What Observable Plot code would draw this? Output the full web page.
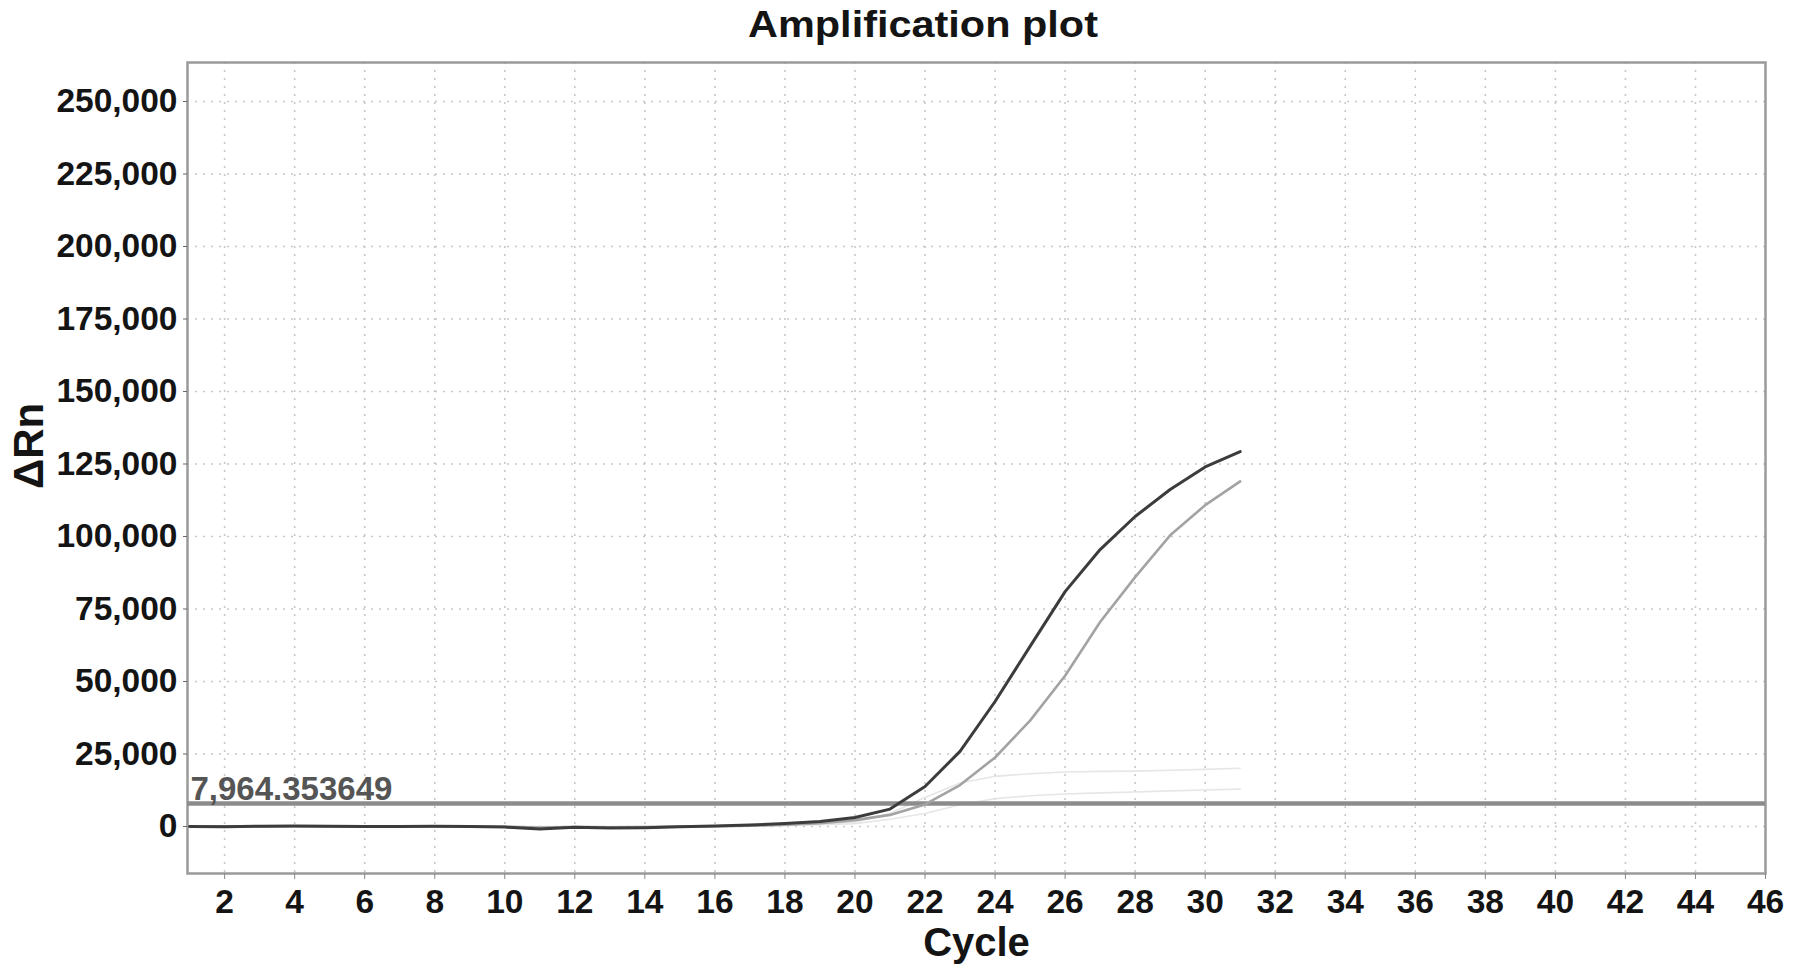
<!DOCTYPE html>
<html>
<head>
<meta charset="utf-8">
<script src="https://cdn.jsdelivr.net/npm/d3@7"></script>
<script src="https://cdn.jsdelivr.net/npm/@observablehq/plot@0.6"></script>
<style>
  html, body { margin: 0; padding: 0; background: #fff; }
  #wrap { position: relative; width: 1795px; height: 972px; font-family: "Liberation Sans", Arial, sans-serif; }
  #title { position: absolute; top: 6px; left: 923px; transform: translateX(-50%) scaleX(1.12); font-size: 37px; line-height: 37px; font-weight: bold; color: #141414; white-space: nowrap; }
  #chart { position: absolute; top: 50px; left: 0; }
</style>
</head>
<body>
<div id="wrap">
  <div id="title">Amplification plot</div>
  <div id="chart"></div>
</div>
<script>
// ---- data ----
const cycles = [1,2,3,4,5,6,7,8,9,10,11,12,13,14,15,16,17,18,19,20,21,22,23,24,25,26,27,28,29,30,31];
const sampleDark  = [0,-100,100,200,100,0,0,100,0,-200,-900,-300,-500,-400,-100,200,500,1000,1700,3100,6000,13800,25900,43100,62100,81000,95500,106900,116200,124000,129300];
const sampleLight = [0,100,0,100,0,0,100,0,0,-100,-400,-200,-300,-200,0,100,300,600,1100,2200,4000,7600,14300,23800,36500,52000,70500,86000,100400,110800,119000];
const faintUpper  = [0,0,100,0,0,100,0,0,100,0,-200,0,-100,0,0,100,200,400,800,1500,4500,10000,15000,17300,18200,18800,19000,19100,19400,19700,20100];
const faintLower  = [0,100,0,0,100,0,0,100,0,0,-100,0,0,-100,0,100,200,300,600,1000,2500,4500,7500,9600,10600,11200,11600,11900,12300,12600,12900];
const threshold = 7964.353649;
const xTicks = [2,4,6,8,10,12,14,16,18,20,22,24,26,28,30,32,34,36,38,40,42,44,46];
const yTicks = [0,25000,50000,75000,100000,125000,150000,175000,200000,225000,250000];
const xLabel = ["Cycle"];
const yLabel = ["ΔRn"];

const rows = cycles.map((c, i) => ({
  cycle: c,
  dark: sampleDark[i],
  light: sampleLight[i],
  up: faintUpper[i],
  low: faintLower[i]
}));

const chart = Plot.plot({
  width: 1795,
  height: 922,
  marginTop: 12,
  marginBottom: 99,
  marginLeft: 187,
  marginRight: 30,
  style: {
    fontFamily: "'Liberation Sans', Arial, sans-serif",
    fontSize: "33.5px",
    fontWeight: "bold",
    color: "#141414",
    background: "#fff"
  },
  x: { domain: [0.94, 46], ticks: xTicks },
  y: { domain: [-16207, 263448], ticks: yTicks },
  marks: [
    Plot.gridX(xTicks.filter(t => t < 46), { stroke: "#c8c8c8", strokeOpacity: 1, strokeWidth: 1.6, strokeDasharray: "2,6" }),
    Plot.gridY(yTicks, { stroke: "#c8c8c8", strokeOpacity: 1, strokeWidth: 1.6, strokeDasharray: "2,6" }),
    Plot.frame({ stroke: "#9a9a9a", strokeWidth: 2.5 }),
    Plot.axisX(xTicks, { tickSize: 6, tickPadding: 10, stroke: "#888", label: null, tickFormat: d => String(d) }),
    Plot.axisY(yTicks, { tickSize: 4, tickPadding: 6, stroke: "#666", label: null, tickFormat: d3.format(",") }),
    Plot.line(rows, { x: "cycle", y: "up", stroke: "#e6e6e6", strokeWidth: 1.6 }),
    Plot.line(rows, { x: "cycle", y: "low", stroke: "#e6e6e6", strokeWidth: 1.6 }),
    Plot.ruleY([threshold], { stroke: "#8c8c8c", strokeWidth: 4.5 }),
    Plot.line(rows, { x: "cycle", y: "light", stroke: "#a3a3a3", strokeWidth: 2.6 }),
    Plot.line(rows, { x: "cycle", y: "dark", stroke: "#3c3c3c", strokeWidth: 3 }),
    Plot.text([threshold], { y: d => d, frameAnchor: "left", text: d => d3.format(",.6f")(d), textAnchor: "start", lineAnchor: "bottom", dx: 3, dy: -3, fill: "#555", fontSize: 33, fontWeight: "bold" }),
    Plot.text(xLabel, { frameAnchor: "bottom", lineAnchor: "bottom", dy: 82, fontSize: 40, fontWeight: "bold", fill: "#141414" }),
    Plot.text(yLabel, { frameAnchor: "left", rotate: -90, lineAnchor: "bottom", dx: -145, dy: 21, fontSize: 42, fontWeight: "bold", fill: "#141414" })
  ]
});
document.getElementById("chart").appendChild(chart);
</script>
</body>
</html>
